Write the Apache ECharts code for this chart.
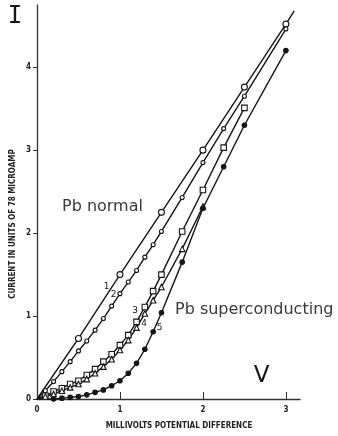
<!DOCTYPE html>
<html>
<head>
<meta charset="utf-8">
<script src="https://cdn.jsdelivr.net/npm/echarts@6/dist/echarts.min.js"></script>
<style>
  html, body { margin: 0; padding: 0; background: #fff; }
  #chart { width: 338px; height: 436px; }
</style>
</head>
<body>
<div id="chart"></div>
<script>
const xTicks = [0, 1, 2, 3]
const yTicks = [0, 1, 2, 3, 4]

// curve 1: large open circles, straight line through origin
const curve1X = [0.5, 1, 1.5, 2, 2.5, 3]
const curve1Y = [0.73, 1.5, 2.25, 3.0, 3.76, 4.52]
const curve1End = [3.1, 4.68]

// curve 2: small open circles
const curve2X = [0.1, 0.2, 0.3, 0.4, 0.5, 0.6, 0.7, 0.8, 0.9, 1.0, 1.1, 1.2, 1.3, 1.4, 1.5, 1.75, 2.0, 2.25, 2.5, 3.0]
const curve2Y = [0.1, 0.21, 0.33, 0.45, 0.58, 0.7, 0.83, 0.97, 1.12, 1.27, 1.41, 1.55, 1.71, 1.86, 2.02, 2.43, 2.85, 3.26, 3.65, 4.46]

// curve 3: open squares
const curve3X = [0.1, 0.2, 0.3, 0.4, 0.5, 0.6, 0.7, 0.8, 0.9, 1.0, 1.1, 1.2, 1.3, 1.4, 1.5, 1.75, 2.0, 2.25, 2.5]
const curve3Y = [0.04, 0.09, 0.13, 0.18, 0.22, 0.29, 0.36, 0.45, 0.54, 0.65, 0.77, 0.93, 1.11, 1.3, 1.5, 2.02, 2.52, 3.03, 3.51]

// curve 4: open triangles
const curve4X = [0.1, 0.2, 0.3, 0.4, 0.5, 0.6, 0.7, 0.8, 0.9, 1.0, 1.1, 1.2, 1.3, 1.4, 1.5, 1.75, 2.0]
const curve4Y = [0.03, 0.06, 0.1, 0.14, 0.18, 0.24, 0.31, 0.39, 0.48, 0.59, 0.71, 0.86, 1.03, 1.19, 1.35, 1.81, 2.32]

// curve 5: filled circles
const curve5X = [0.2, 0.3, 0.4, 0.5, 0.6, 0.7, 0.8, 0.9, 1.0, 1.1, 1.2, 1.3, 1.4, 1.5, 1.75, 2.0, 2.25, 2.5, 3.0]
const curve5Y = [0.0, 0.01, 0.02, 0.03, 0.05, 0.08, 0.11, 0.16, 0.22, 0.31, 0.43, 0.6, 0.81, 1.04, 1.65, 2.3, 2.8, 3.3, 4.2]

const origin = [0, 0]

const ink = '#151515'
const smallFont = '"Liberation Sans Narrow", "DejaVu Sans Condensed", sans-serif'

const toPoints = (xs, ys) => xs.map((x, i) => [x, ys[i]])

const hidden = (p) => ({ value: p, symbol: 'none' })

const makeSeries = (name, points, symbol, size, filled, end) => {
  const data = [hidden(origin)].concat(points)
  if (end) data.push(hidden(end))
  return {
    name,
    type: 'line',
    data,
    symbol,
    symbolSize: size,
    showAllSymbol: true,
    smooth: false,
    lineStyle: { color: ink, width: 1.4 },
    itemStyle: { color: filled ? ink : '#fff', borderColor: ink, borderWidth: 1.1 },
    emphasis: { disabled: true },
    z: 3
  }
}

const curveLabel = (text, x, y) => ({
  type: 'text',
  x,
  y,
  style: { text, font: '9px "DejaVu Sans", sans-serif', fill: ink, align: 'center', verticalAlign: 'middle' }
})

const option = {
  animation: false,
  backgroundColor: '#fff',
  grid: { left: 37, right: 38, top: 5, bottom: 37 },
  xAxis: {
    type: 'value',
    min: 0,
    max: 3.17,
    axisLine: { show: true, lineStyle: { color: '#333', width: 1.3 } },
    axisTick: { show: true, inside: true, length: 7, customValues: xTicks, lineStyle: { color: '#333' } },
    axisLabel: { customValues: xTicks, margin: 7, color: '#222', fontSize: 8, fontWeight: 'bold', fontFamily: smallFont },
    splitLine: { show: false }
  },
  yAxis: {
    type: 'value',
    min: 0,
    max: 4.75,
    axisLine: { show: true, lineStyle: { color: '#333', width: 1.3 } },
    axisTick: { show: true, inside: false, length: 4, customValues: yTicks, lineStyle: { color: '#333' } },
    axisLabel: { customValues: yTicks, margin: 6, color: '#222', fontSize: 8, fontWeight: 'bold', fontFamily: smallFont },
    splitLine: { show: false }
  },
  series: [
    makeSeries('1', toPoints(curve1X, curve1Y), 'circle', 6, false, curve1End),
    makeSeries('2', toPoints(curve2X, curve2Y), 'circle', 4, false),
    makeSeries('3', toPoints(curve3X, curve3Y), 'rect', 5.5, false),
    makeSeries('4', toPoints(curve4X, curve4Y), 'triangle', 5.5, false),
    makeSeries('5', toPoints(curve5X, curve5Y), 'circle', 4.5, true)
  ],
  graphic: [
    { type: 'text', x: 15, y: 17, style: { text: 'I', font: '24px "DejaVu Sans Mono", monospace', fill: ink, align: 'center', verticalAlign: 'middle' } },
    { type: 'text', x: 261.5, y: 376.5, style: { text: 'V', font: '23px "DejaVu Sans", sans-serif', fill: ink, align: 'center', verticalAlign: 'middle' } },
    { type: 'text', x: 62, y: 207, style: { text: 'Pb normal', font: '16px "DejaVu Sans", sans-serif', fill: '#3a3a3a', align: 'left', verticalAlign: 'middle' } },
    { type: 'text', x: 175, y: 310, style: { text: 'Pb superconducting', font: '16px "DejaVu Sans", sans-serif', fill: '#3a3a3a', align: 'left', verticalAlign: 'middle' } },
    {
      type: 'text', x: 13, y: 224, rotation: Math.PI / 2,
      style: { text: 'CURRENT IN UNITS OF 78 MICROAMP', font: 'bold 8px ' + smallFont, fill: '#222', align: 'center', verticalAlign: 'middle' }
    },
    { type: 'text', x: 179, y: 426, style: { text: 'MILLIVOLTS POTENTIAL DIFFERENCE', font: 'bold 8px ' + smallFont, fill: '#222', align: 'center', verticalAlign: 'middle' } },
    curveLabel('1', 106.5, 286.5),
    curveLabel('2', 113.5, 294.5),
    curveLabel('3', 135, 310.5),
    curveLabel('4', 144, 324),
    curveLabel('5', 159.5, 328)
  ]
}

const chart = echarts.init(document.getElementById('chart'), '', { renderer: 'canvas' })
chart.setOption(option)
</script>
</body>
</html>
